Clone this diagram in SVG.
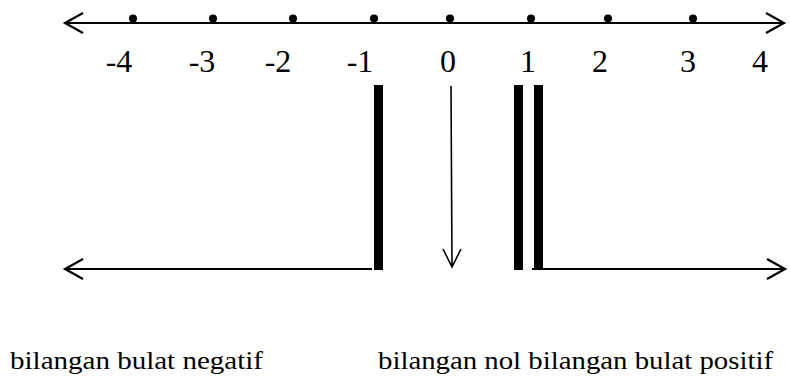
<svg xmlns="http://www.w3.org/2000/svg" width="790" height="376" viewBox="0 0 790 376">
<style>
.ln{stroke:#000;stroke-width:2.2;fill:none}
.thin{stroke:#000;stroke-width:1.6;fill:none}
.bar{fill:#000}
.dot{fill:#000}
.num{font-family:'Liberation Serif',serif;font-size:32px;fill:#000;text-anchor:middle}
.lbl{font-family:'Liberation Serif',serif;font-size:26px;fill:#000}
</style>
<g id="connectors">
<path class="ln" d="M65 23 H784 M83 13 L65 23 L83 33 M766 13 L784 23 L766 33"/>
<path class="ln" d="M65 269 H372 M83 259 L65 269 L83 279"/>
<path class="ln" d="M532 269 H785 M767 259 L785 269 L767 279"/>
<path class="thin" d="M451 86 L452 266 M443 249 L452 267 L461 249"/>
</g>
<g id="numberline">
<circle class="dot" cx="133" cy="18.5" r="4"/>
<circle class="dot" cx="213" cy="18.5" r="4"/>
<circle class="dot" cx="293" cy="18.5" r="4"/>
<circle class="dot" cx="374" cy="18.5" r="4"/>
<circle class="dot" cx="450" cy="18.5" r="4"/>
<circle class="dot" cx="531" cy="18.5" r="4"/>
<circle class="dot" cx="608" cy="18.5" r="4"/>
<circle class="dot" cx="693" cy="18.5" r="4"/>
<text class="num" x="119" y="72">-4</text>
<text class="num" x="202" y="72">-3</text>
<text class="num" x="278" y="72">-2</text>
<text class="num" x="360" y="72">-1</text>
<text class="num" x="448" y="72">0</text>
<text class="num" x="528" y="72">1</text>
<text class="num" x="600" y="72">2</text>
<text class="num" x="688" y="72">3</text>
<text class="num" x="760" y="72">4</text>
</g>
<g id="bars">
<rect class="bar" x="374" y="85" width="9" height="185"/>
<rect class="bar" x="514" y="85" width="9" height="185"/>
<rect class="bar" x="534" y="85" width="9" height="185"/>
</g>
<g id="label-negatif">
<text class="lbl" x="10" y="369" textLength="253" lengthAdjust="spacingAndGlyphs">bilangan bulat negatif</text>
</g>
<g id="label-nol-positif">
<text class="lbl" x="378" y="369" textLength="395" lengthAdjust="spacingAndGlyphs">bilangan nol bilangan bulat positif</text>
</g>
</svg>
